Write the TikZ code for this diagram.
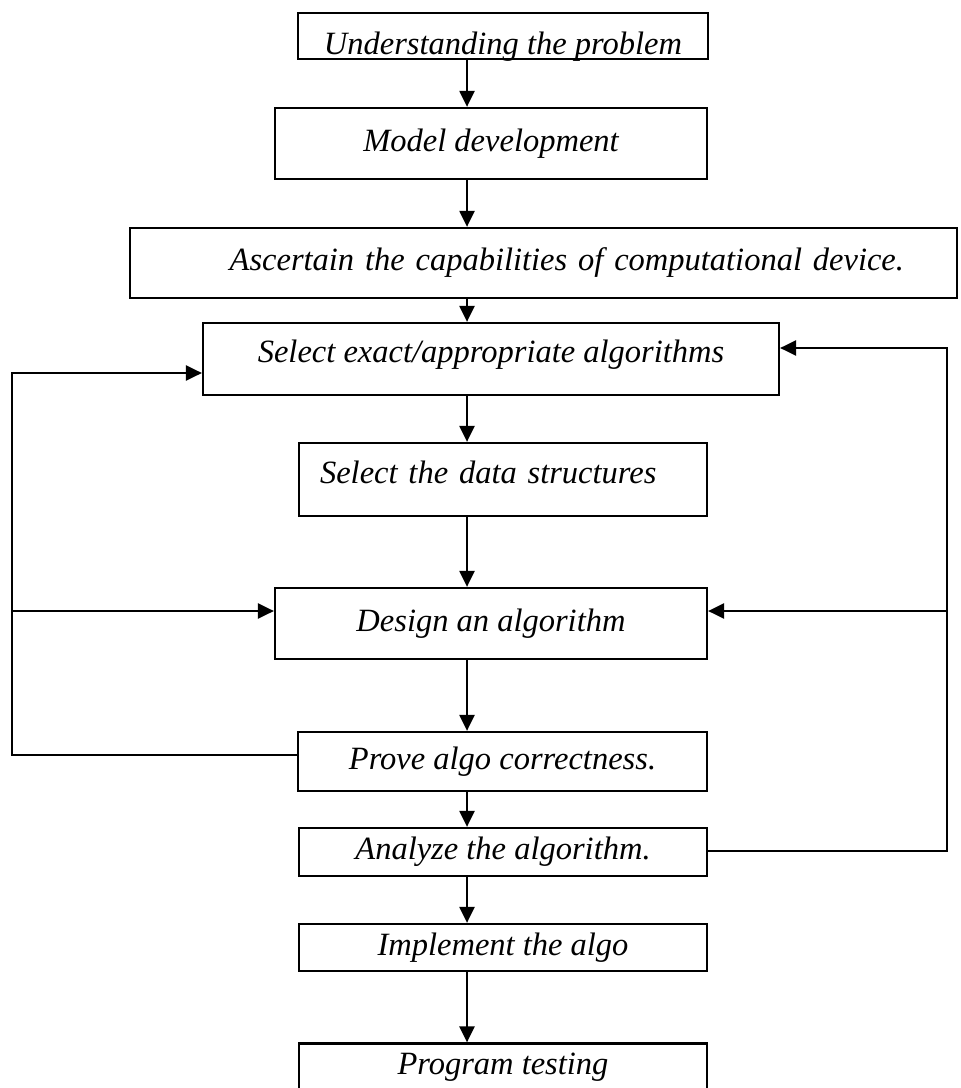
\documentclass[tikz,border=0pt]{standalone}
\usepackage{fontspec}
\setmainfont{Liberation Serif}
\usetikzlibrary{arrows.meta}
\tikzset{
	box/.style={draw, line width=1.3pt, inner ysep=0pt, font=\fontsize{18.5}{22}\selectfont\itshape},
	flow/.style={line width=1.3pt, -{Triangle[length=0.32cm, width=0.3cm]}}
}

\begin{document}
\begin{tikzpicture}[x=0.02cm, y=-0.02cm]
			%%%%% START %%%%%
			\useasboundingbox (0,0) rectangle (960,1088);
			\clip (0,0) rectangle (960,1088);
			
			\coordinate (spine) at (467,0);
			\coordinate (lft) at (12,0);
			\coordinate (rgt) at (947,0);
			
			\node[box, minimum width=8.2cm, minimum height=0.92cm, text height=0.74cm, text depth=0pt] (und) at (503,36) {Understanding the problem};
			\node[box, minimum width=8.64cm, minimum height=1.42cm] (model) at (491,143.5) {Model development};
			\node[box, minimum height=1.4cm, text width=14.42cm, inner xsep=1.06cm, align=right] (asc) at (543.5,263) {Ascertain the capabilities of computational device.};
			\node[box, minimum width=11.52cm, minimum height=1.44cm, text depth=0.3cm] (sel) at (491,359) {Select exact/appropriate algorithms};
			\node[box, minimum height=1.46cm, text width=7.32cm, inner xsep=0.42cm, align=left, text depth=0.3cm] (data) at (503,479.5) {Select the data structures};
			\node[box, minimum width=8.64cm, minimum height=1.42cm] (design) at (491,623.5) {Design an algorithm};
			\node[box, minimum width=8.18cm, minimum height=1.18cm] (prove) at (502.5,761.5) {Prove algo correctness.};
			\node[box, minimum width=8.16cm, minimum height=0.96cm] (analyze) at (503,852) {Analyze the algorithm.};
			\node[box, minimum width=8.16cm, minimum height=0.94cm] (impl) at (503,947.5) {Implement the algo};
			\node[box, minimum width=8.16cm, minimum height=0.94cm] (prog) at (503,1067) {Program testing};
			
			\foreach \a/\b in {und/model, model/asc, asc/sel, sel/data, data/design, design/prove, prove/analyze, analyze/impl, impl/prog}
				\draw[flow] (spine |- \a.south) -- (spine |- \b.north);
			
			% left loop
			\draw[flow] (prove.west |- 0,755) -- (lft |- 0,755) -- (lft |- 0,373) -- (sel.west |- 0,373);
			\draw[flow] (lft |- 0,611) -- (design.west |- 0,611);
			
			% right loop
			\draw[flow] (analyze.east |- 0,851) -- (rgt |- 0,851) -- (rgt |- 0,348) -- (sel.east |- 0,348);
			\draw[flow] (rgt |- 0,611) -- (design.east |- 0,611);
			
			%%%%% END %%%%%
\end{tikzpicture}
\end{document}
